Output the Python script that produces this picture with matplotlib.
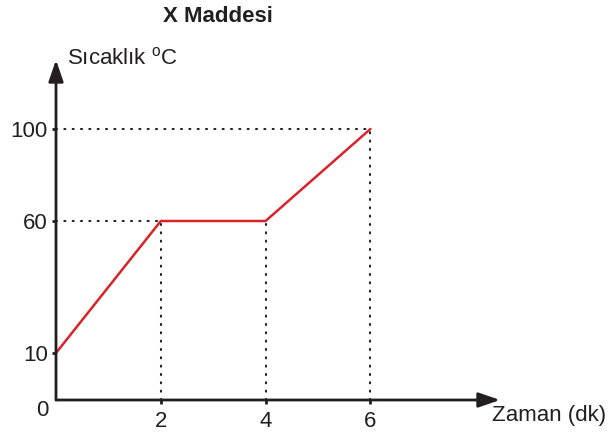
import matplotlib.pyplot as plt
import numpy as np

plt.rcParams['font.family'] = ['Liberation Sans', 'DejaVu Sans']
plt.rcParams['mathtext.fontset'] = 'custom'
plt.rcParams['mathtext.rm'] = 'Liberation Sans'

# heating curve of substance X
zaman = [0, 2, 4, 6]
sicaklik = [10, 60, 60, 100]
x_ticks = [2, 4, 6]
y_ticks = [10, 60, 100]

# the drawing is not to scale on the temperature axis
y_vals = [0, 10, 60, 100, 300]
y_pos = [0, 47, 179, 271, 731]

def fwd(v):
    return np.interp(v, y_vals, y_pos)

def inv(p):
    return np.interp(p, y_pos, y_vals)

W, H = 614, 434
fs = 16
ink = '#231f20'
fig = plt.figure(figsize=(W / 100, H / 100), dpi=100)
x0, y0, x1, y1 = 56, 400, 500, 60
ax = fig.add_axes([x0 / W, (H - y0) / H, (x1 - x0) / W, (y0 - y1) / H])
ax.set_yscale('function', functions=(fwd, inv))
ax.set_xlim(0, (x1 - x0) / 52.4)
ax.set_ylim(0, inv(y0 - y1))
ax.patch.set_alpha(0)
for s in ax.spines.values():
    s.set_visible(False)

dot = dict(color=ink, lw=1.5, linestyle=(0, (0.5, 3.5)), dash_capstyle='round')
for xv, yv in zip(zaman[1:], sicaklik[1:]):
    ax.plot([xv, xv], [0, yv], **dot)
for yv in [60, 100]:
    xv = zaman[sicaklik.index(yv)]
    ax.plot([0, xv], [yv, yv], **dot)

ax.plot(zaman, sicaklik, color='#d7242b', lw=1.8, solid_capstyle='round', zorder=3)

# axes with arrow heads
arr = dict(arrowstyle='-|>,head_length=1.3,head_width=0.45', color=ink, lw=2,
           shrinkA=0, shrinkB=0)
ax.annotate('', xy=(1, 0), xytext=(0, 0), xycoords='axes fraction', arrowprops=arr)
ax.annotate('', xy=(0, 1), xytext=(0, 0), xycoords='axes fraction', arrowprops=arr)

ax.set_xticks(x_ticks)
ax.set_xticklabels([str(v) for v in x_ticks])
ax.set_yticks(y_ticks)
ax.set_yticklabels([str(v) for v in y_ticks])
ax.tick_params(length=3, width=2, color=ink, labelsize=fs, labelcolor=ink, pad=3)
ax.tick_params(axis='x', pad=5)

fig.text(42 / W, 1 - 410 / H, '0', ha='center', va='center', fontsize=fs, color=ink)
fig.text(492 / W, 1 - 416 / H, 'Zaman (dk)', ha='left', va='center', fontsize=fs,
         color=ink)
fig.text(67 / W, 1 - 58 / H, r'Sıcaklık $^{\mathrm{o}}$C', ha='left', va='center',
         fontsize=fs, color=ink)
fig.text(218 / W, 1 - 17 / H, 'X Maddesi', ha='center', va='center',
         fontsize=fs, fontweight='bold', color=ink)

fig.savefig('out.png', dpi=100)
